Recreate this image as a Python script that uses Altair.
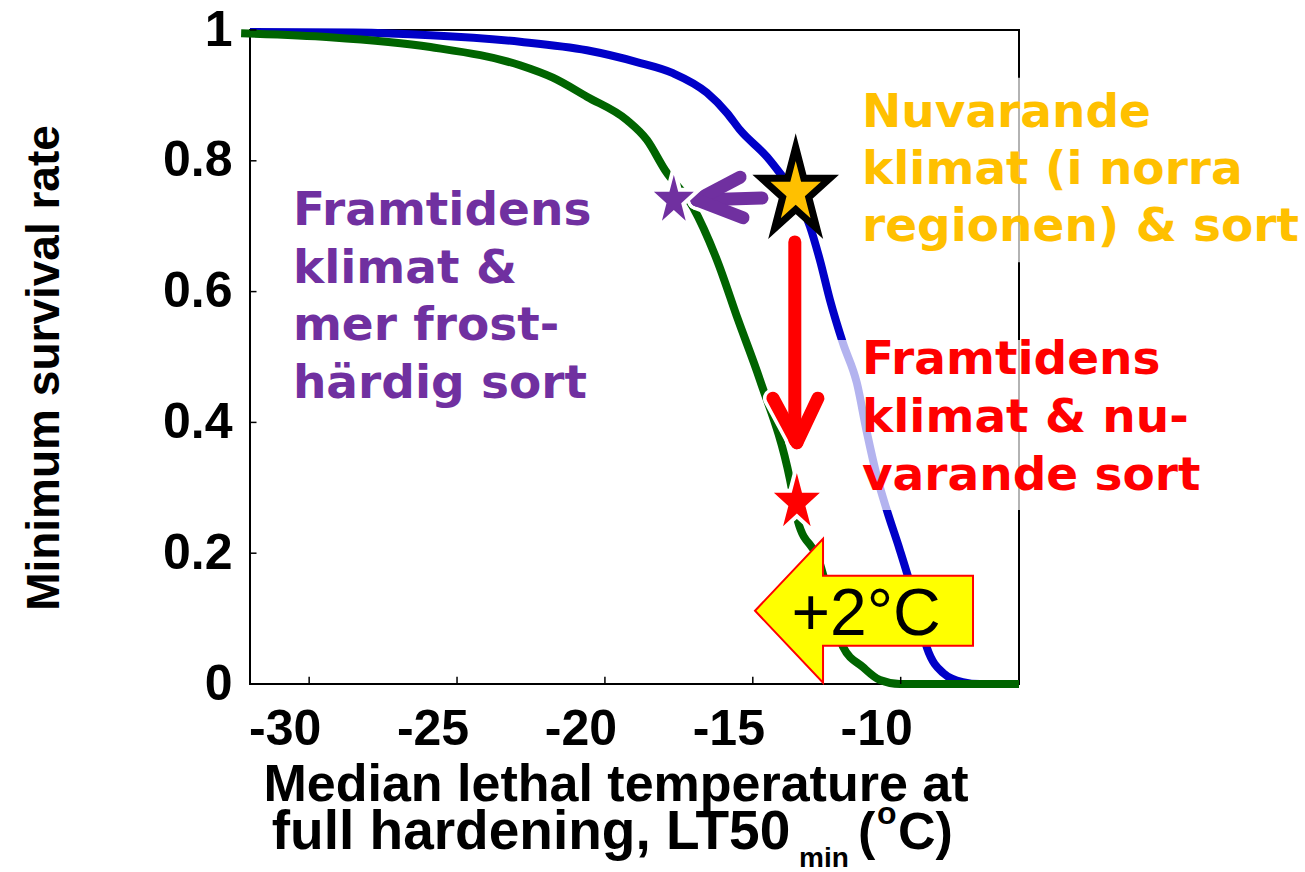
import math
import altair as alt
import pandas as pd

# ---------------- data ----------------
# Blue: current climate
lt50_blue = [-32.0, -28.5, -25.9, -22.87, -20.61, -18.92, -17.70, -16.55, -15.87, -15.43, -14.52,
             -14.08, -13.58, -13.07, -12.73, -12.39, -11.95, -11.48, -11.14, -10.80, -10.47,
             -10.03, -9.52, -9.11, -8.57, -7.90, -7.32, -6.0]
surv_blue = [0.997, 0.996, 0.992, 0.982, 0.969, 0.951, 0.934, 0.904, 0.873, 0.847, 0.806,
             0.781, 0.750, 0.700, 0.648, 0.587, 0.521, 0.460, 0.384, 0.317, 0.266,
             0.205, 0.128, 0.055, 0.017, 0.003, 0.0, 0.0]
# Green: future climate
lt50_green = [-32.3, -29.3, -25.9, -22.87, -21.76, -20.61, -19.25, -18.58, -17.97, -17.02,
              -16.21, -15.5, -14.76, -13.74, -13.47, -12.80, -11.95, -11.28, -10.70, -10.03, -6.0]
surv_green = [0.995, 0.989, 0.974, 0.946, 0.927, 0.898, 0.862, 0.832, 0.786, 0.729,
              0.648, 0.557, 0.465, 0.312, 0.248, 0.193, 0.057, 0.026, 0.006, 0.0, 0.0]

x_ticks = [-30, -25, -20, -15, -10]
y_ticks = [0, 0.2, 0.4, 0.6, 0.8, 1.0]
x_tick_labels = ["-30", "-25", "-20", "-15", "-10"]

# markers (stars)
star_now = (-13.55, 0.752)
star_future_hardy = (-17.67, 0.740)
star_future_now = (-13.51, 0.278)

# arrows (segments)
arrow_x = [-14.69, -16.89, -16.89, -13.58, -13.51, -13.51]
arrow_y = [0.743, 0.740, 0.740, 0.676, 0.369, 0.369]
arrow_x2 = [-16.89, -15.43, -15.33, -13.58, -14.32, -12.80]
arrow_y2 = [0.740, 0.775, 0.713, 0.373, 0.437, 0.437]
arrow_col = ["#7030a0", "#7030a0", "#7030a0", "#ff0000", "#ff0000", "#ff0000"]

# annotation texts
orange_lines = ["Nuvarande", "klimat (i norra", "regionen) & sort"]
orange_y = [0.852, 0.764, 0.677]
red_lines = ["Framtidens", "klimat & nu-", "varande sort"]
red_y = [0.474, 0.385, 0.297]
purple_lines = ["Framtidens", "klimat &", "mer frost-", "härdig sort"]
purple_y = [0.702, 0.613, 0.526, 0.437]

# ---------------- chart ----------------
W, H = 769, 654
L, T = 250, 30
xs = alt.Scale(domain=[-32, -6], nice=False, zero=False)
ys = alt.Scale(domain=[0, 1], nice=False, zero=False)
AXF = "Liberation Sans"

xaxis = alt.Axis(values=x_ticks, title=None, grid=False, domain=False, ticks=False, labels=False)
yaxis = alt.Axis(values=y_ticks, title=None, grid=False, domain=False, ticks=False,
                 labelFont=AXF, labelFontSize=50, labelFontWeight="bold", labelColor="black",
                 labelPadding=18, format=".1~f")


def X(f):
    return alt.X(f, type="quantitative", scale=xs, axis=xaxis)


def Y(f):
    return alt.Y(f, type="quantitative", scale=ys, axis=yaxis)


blue_df = pd.DataFrame({"x": lt50_blue, "y": surv_blue})
green_df = pd.DataFrame({"x": lt50_green, "y": surv_green})

blue = alt.Chart(blue_df).mark_line(color="#0000c8", strokeWidth=8, strokeJoin="round",
                                    interpolate="monotone").encode(x=X("x"), y=Y("y"))
green = alt.Chart(green_df).mark_line(color="#006400", strokeWidth=8, strokeJoin="round",
                                      interpolate="monotone").encode(x=X("x"), y=Y("y"))

# semi-transparent white text boxes (lighten what lies beneath)
box_df = pd.DataFrame({"x": [-12.22, -11.4], "x2": [-5.85, -5.85],
                       "y": [0.266, 0.645], "y2": [0.526, 0.927]})
boxes = alt.Chart(box_df).mark_rect(fill="white", opacity=0.7).encode(
    x=X("x"), x2="x2", y=Y("y"), y2="y2")

# inward ticks
xt_df = pd.DataFrame({"x": x_ticks, "y": [0] * 5, "y2": [0.011] * 5})
yt_df = pd.DataFrame({"y": y_ticks, "x": [-32] * 6, "x2": [-31.78] * 6})
xt = alt.Chart(xt_df).mark_rule(color="black", strokeWidth=1.5).encode(
    x=X("x"), y=Y("y"), y2="y2")
yt = alt.Chart(yt_df).mark_rule(color="black", strokeWidth=1.5).encode(
    y=Y("y"), x=X("x"), x2="x2")

# x tick labels (MATLAB places them slightly left of the ticks)
xl_df = pd.DataFrame({"x": x_ticks, "t": x_tick_labels})
xl = alt.Chart(xl_df).mark_text(font=AXF, fontSize=50, fontWeight="bold", color="black",
                                align="center", baseline="alphabetic", dx=-24).encode(
    x=X("x"), y=alt.value(745 - T), text="t:N")

arr_df = pd.DataFrame({"x": arrow_x, "y": arrow_y, "x2": arrow_x2, "y2": arrow_y2, "c": arrow_col})
arrows_bg = alt.Chart(arr_df).mark_rule(color="white", strokeWidth=20, strokeCap="round").encode(
    x=X("x"), y=Y("y"), x2="x2", y2="y2")
arrows = alt.Chart(arr_df).mark_rule(strokeWidth=13, strokeCap="round").encode(
    x=X("x"), y=Y("y"), x2="x2", y2="y2", color=alt.Color("c:N", scale=None))


def star_path(sx=0.8, inner=0.382):
    pts = []
    for k in range(10):
        a = math.radians(-90 + 36 * k)
        r = 1.0 if k % 2 == 0 else inner
        pts.append((r * math.cos(a) * sx, r * math.sin(a)))
    return "M " + " L ".join(f"{px:.4f} {py:.4f}" for px, py in pts) + " Z"


STAR = star_path()


def star(pos, R, fill, stroke, sw):
    df = pd.DataFrame({"x": [pos[0]], "y": [pos[1]]})
    return alt.Chart(df).mark_point(shape=STAR, size=4 * R * R, filled=True, fill=fill,
                                    stroke=stroke, strokeWidth=sw, opacity=1,
                                    strokeJoin="miter").encode(x=X("x"), y=Y("y"))


s_now = star(star_now, 45, "#ffc000", "black", 7)
s_hardy = star(star_future_hardy, 33, "#7030a0", "white", 4)
s_fut = star(star_future_now, 37, "#ff0000", "white", 4)

# yellow "+2°C" block arrow
ARROW = ("M -1 0 L -0.376 -0.661 L -0.376 -0.32 L 1 -0.32 L 1 0.32 "
         "L -0.376 0.32 L -0.376 0.661 Z")
warm_df = pd.DataFrame({"x": [-11.24], "y": [0.112]})
warm = alt.Chart(warm_df).mark_point(shape=ARROW, size=109 * 109 * 4, filled=True, fill="#ffff00",
                                     stroke="#ff0000", strokeWidth=2, opacity=1).encode(
    x=X("x"), y=Y("y"))
warm_txt = alt.Chart(pd.DataFrame({"x": [-11.17], "y": [0.075], "t": ["+2°C"]})).mark_text(
    font=AXF, fontSize=66, color="black", align="center", baseline="alphabetic").encode(
    x=X("x"), y=Y("y"), text="t:N")


def text_block(lines, xpos, ypos, color):
    df = pd.DataFrame({"t": lines, "y": ypos, "x": [xpos] * len(lines)})
    return alt.Chart(df).mark_text(font="DejaVu Sans", fontWeight="bold", fontSize=47, color=color,
                                   align="left", baseline="alphabetic").encode(
        x=X("x"), y=Y("y"), text="t:N")


t_orange = text_block(orange_lines, -11.31, orange_y, "#ffc000")
t_red = text_block(red_lines, -11.31, red_y, "#ff0000")
t_purple = text_block(purple_lines, -30.55, purple_y, "#7030a0")


def label(s, px, py, size, align="left", angle=0, weight="bold"):
    props = dict(font=AXF, fontSize=size, fontWeight=weight, color="black", align=align,
                 baseline="alphabetic")
    if angle:
        props.update(angle=angle, baseline="middle")
    return alt.Chart(pd.DataFrame({"t": [s]})).mark_text(**props).encode(
        x=alt.value(px - L), y=alt.value(py - T), text="t:N")


titles = [
    label("Minimum survival rate", 45, 368, 46, align="center", angle=270),
    label("Median lethal temperature at", 616, 801, 52, align="center"),
    label("full hardening, LT50", 531, 849, 55, align="center"),
    label("min", 799, 867, 28),
    label("(", 858, 849, 52),
    label("o", 877, 824, 32),
    label("C)", 898, 849, 52),
]

chart = alt.layer(
    blue, green, boxes, xt, yt, xl, arrows_bg, arrows, s_now, s_hardy, s_fut, warm, warm_txt,
    t_orange, t_red, t_purple, *titles
).properties(
    width=W, height=H,
    autosize=alt.AutoSizeParams(type="none"),
    padding={"left": L, "top": T, "right": 1305 - L - W, "bottom": 872 - T - H},
    background="white",
).configure_view(stroke="black", strokeWidth=2)

chart.save("out.html", embed_options={"renderer": "svg", "actions": False})
